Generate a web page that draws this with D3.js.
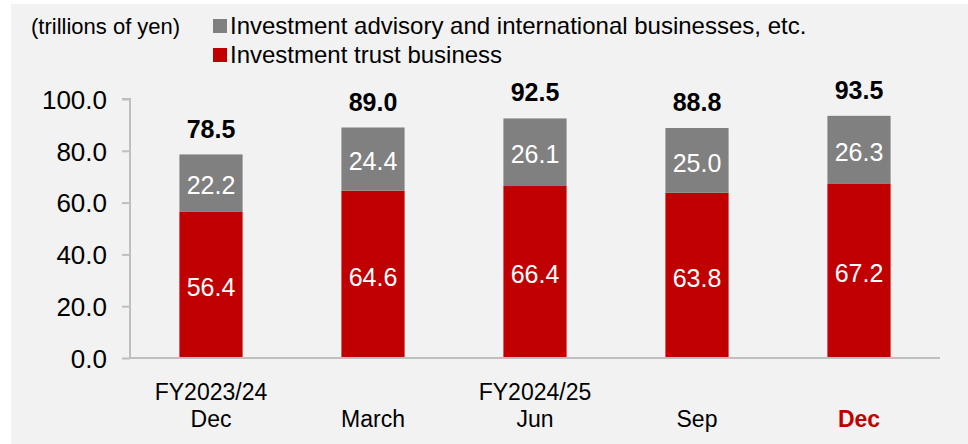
<!DOCTYPE html>
<html>
<head>
<meta charset="utf-8">
<script src="https://cdn.jsdelivr.net/npm/d3@7"></script>
<style>
  body { margin: 0; background: #fff; }
  text { font-family: "Liberation Sans", Arial, sans-serif; }
</style>
</head>
<body>
<div id="viz"></div>
<script>
const periods = ['FY2023/24 Dec', 'March', 'FY2024/25 Jun', 'Sep', 'Dec'];
const labelLines = [['FY2023/24', 'Dec'], ['', 'March'], ['FY2024/25', 'Jun'], ['', 'Sep'], ['', 'Dec']];
const trustValues = [56.4, 64.6, 66.4, 63.8, 67.2];
const advisoryValues = [22.2, 24.4, 26.1, 25.0, 26.3];
const totals = [78.5, 89.0, 92.5, 88.8, 93.5];
const yTicks = [0, 20, 40, 60, 80, 100];
const seriesNames = ['Investment advisory and international businesses, etc.', 'Investment trust business'];

function buildChart(containerId) {
    const width = 968;
    const height = 444;

    const margin = {
        top: 99,
        bottom: 86,
        left: 130,
        right: 28
    };

    const innerWidth = width - margin.left - margin.right;
    const innerHeight = height - margin.top - margin.bottom;

    const red = '#c00000';
    const grey = '#808080';

    const svg = d3.select(containerId)
        .append('svg')
        .attr('width', width)
        .attr('height', height);

    svg.append('rect')
        .attr('x', 11)
        .attr('y', 4)
        .attr('width', width - 11)
        .attr('height', height - 4)
        .attr('fill', '#f2f2f2');

    const g = svg.append('g')
        .attr('transform', `translate(${margin.left},${margin.top})`);

    const x = d3.scaleBand()
        .domain(periods)
        .range([0, innerWidth])
        .paddingInner(0.61)
        .paddingOuter(0.305);

    const y = d3.scaleLinear()
        .domain([0, 100])
        .range([innerHeight, 0]);

    // y axis
    const yAxis = d3.axisLeft(y)
        .tickValues(yTicks)
        .tickFormat(d3.format('.1f'))
        .tickSize(8)
        .tickPadding(15);

    const ya = g.append('g')
        .attr('class', 'y-axis')
        .call(yAxis);
    ya.select('.domain').attr('stroke', '#bfbfbf').attr('stroke-width', 2)
        .attr('d', `M0,${innerHeight}V0H-8`);
    ya.selectAll('.tick line').attr('stroke', '#bfbfbf').attr('stroke-width', 2);
    ya.selectAll('.tick text')
        .attr('font-size', 26)
        .attr('font-family', '"Liberation Sans", Arial, sans-serif')
        .attr('fill', '#000')
        .attr('dy', '0.36em');

    const rows = periods.map((p, i) => ({
        period: p,
        trust: trustValues[i],
        advisory: advisoryValues[i],
        total: totals[i]
    }));

    // trust bars
    g.selectAll('.bar-trust')
        .data(rows)
        .enter()
        .append('rect')
        .attr('class', 'bar-trust')
        .attr('x', d => x(d.period))
        .attr('width', x.bandwidth())
        .attr('y', d => y(d.trust))
        .attr('height', d => y(0) - y(d.trust))
        .attr('fill', red);

    // advisory bars
    g.selectAll('.bar-adv')
        .data(rows)
        .enter()
        .append('rect')
        .attr('class', 'bar-adv')
        .attr('x', d => x(d.period))
        .attr('width', x.bandwidth())
        .attr('y', d => y(d.trust + d.advisory))
        .attr('height', d => y(d.trust) - y(d.trust + d.advisory))
        .attr('fill', grey);

    // x axis line
    g.append('line')
        .attr('x1', 0)
        .attr('x2', innerWidth)
        .attr('y1', innerHeight)
        .attr('y2', innerHeight)
        .attr('stroke', '#bfbfbf')
        .attr('stroke-width', 2);

    // segment labels
    g.selectAll('.lbl-trust')
        .data(rows)
        .enter()
        .append('text')
        .attr('x', d => x(d.period) + x.bandwidth() / 2)
        .attr('y', d => (y(0) + y(d.trust)) / 2)
        .attr('dy', '0.45em')
        .attr('text-anchor', 'middle')
        .attr('font-size', 25)
        .attr('fill', '#fff')
        .text(d => d.trust.toFixed(1));

    g.selectAll('.lbl-adv')
        .data(rows)
        .enter()
        .append('text')
        .attr('x', d => x(d.period) + x.bandwidth() / 2)
        .attr('y', d => (y(d.trust) + y(d.trust + d.advisory)) / 2)
        .attr('dy', '0.45em')
        .attr('text-anchor', 'middle')
        .attr('font-size', 25)
        .attr('fill', '#fff')
        .text(d => d.advisory.toFixed(1));

    // totals
    g.selectAll('.lbl-total')
        .data(rows)
        .enter()
        .append('text')
        .attr('x', d => x(d.period) + x.bandwidth() / 2)
        .attr('y', d => y(d.total) - 17)
        .attr('text-anchor', 'middle')
        .attr('font-size', 25)
        .attr('font-weight', 'bold')
        .attr('fill', '#000')
        .text(d => d.total.toFixed(1));

    // x labels (two lines)
    const xl = g.selectAll('.x-label')
        .data(periods)
        .enter()
        .append('text')
        .attr('class', 'x-label')
        .attr('text-anchor', 'middle')
        .attr('font-size', 23)
        .attr('fill', (d, i) => i === periods.length - 1 ? red : '#000')
        .attr('font-weight', (d, i) => i === periods.length - 1 ? 'bold' : 'normal');

    xl.append('tspan')
        .attr('x', d => x(d) + x.bandwidth() / 2)
        .attr('y', innerHeight + 42)
        .text((d, i) => labelLines[i][0]);

    xl.append('tspan')
        .attr('x', d => x(d) + x.bandwidth() / 2)
        .attr('y', innerHeight + 69)
        .text((d, i) => labelLines[i][1]);

    // unit
    svg.append('text')
        .attr('x', 31)
        .attr('y', 34)
        .attr('font-size', 22)
        .attr('fill', '#000')
        .text('(trillions of yen)');

    // legend
    const legend = svg.selectAll('.legend')
        .data(seriesNames)
        .enter()
        .append('g')
        .attr('class', 'legend')
        .attr('transform', (d, i) => `translate(213,${19 + i * 29})`);

    legend.append('rect')
        .attr('width', 14)
        .attr('height', 14)
        .attr('fill', (d, i) => i === 0 ? grey : red);

    legend.append('text')
        .attr('x', 17)
        .attr('y', 15)
        .attr('font-size', 24)
        .attr('fill', '#000')
        .text(d => d);
}

buildChart('#viz');
</script>
</body>
</html>
